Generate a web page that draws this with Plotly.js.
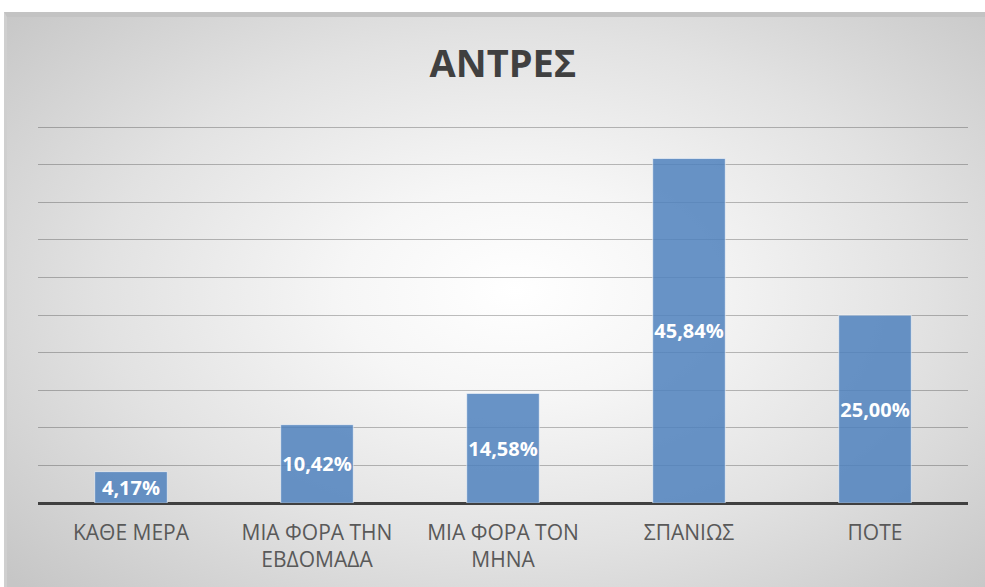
<!DOCTYPE html>
<html>
<head>
<meta charset="utf-8">
<script src="https://cdn.plot.ly/plotly-3.0.1.min.js"></script>
<style>
  html, body { margin: 0; padding: 0; background: #ffffff; }
  #wrap { position: relative; width: 985px; height: 587px; overflow: hidden; }
  #frame {
    position: absolute; left: 4px; top: 12px; width: 981px; height: 575px;
    box-sizing: border-box;
    border-top: 5px solid #c3c3c3; border-left: 3px solid #cfcfcf;
    background: radial-gradient(ellipse 70% 75% at 52% 48%, #ffffff 0%, #f6f6f6 25%, #e2e2e2 60%, #c6c6c6 100%);
  }
  #chart { position: absolute; left: 0; top: 0; width: 985px; height: 587px; }
</style>
</head>
<body>
<div id="wrap">
  <div id="frame"></div>
  <div id="chart"></div>
</div>
<script>
const categories = ["ΚΑΘΕ ΜΕΡΑ", "ΜΙΑ ΦΟΡΑ ΤΗΝ<br>ΕΒΔΟΜΑΔΑ", "ΜΙΑ ΦΟΡΑ ΤΟΝ<br>ΜΗΝΑ", "ΣΠΑΝΙΩΣ", "ΠΟΤΕ"];
const values = [4.17, 10.42, 14.58, 45.84, 25.00];
const labels = ["4,17%", "10,42%", "14,58%", "45,84%", "25,00%"];

const trace = {
  type: "bar",
  x: categories,
  y: values,
  text: labels,
  textposition: "inside",
  insidetextanchor: "middle",
  textangle: 0,
  constraintext: "none",
  textfont: { family: "Open Sans", size: 20, color: "#ffffff", weight: "bold" },
  marker: { color: "rgba(79,129,189,0.85)", line: { color: "rgba(255,255,255,0.55)", width: 1 } },
  hoverinfo: "none"
};

const layout = {
  width: 985, height: 587,
  paper_bgcolor: "rgba(0,0,0,0)",
  plot_bgcolor: "rgba(0,0,0,0)",
  margin: { l: 38, r: 17, t: 125, b: 84 },
  bargap: 0.61,
  showlegend: false,
  title: {
    text: "<b>ΑΝΤΡΕΣ</b>",
    font: { family: "Open Sans", size: 38, color: "#404040" },
    x: 0.5, xref: "paper", xanchor: "center",
    y: 1 - 64 / 587, yref: "container", yanchor: "middle"
  },
  xaxis: {
    type: "category",
    showgrid: false, zeroline: false, showline: false,
    ticks: "", ticklabelstandoff: 15,
    tickfont: { family: "Open Sans", size: 21, color: "#595959" }
  },
  yaxis: {
    range: [0, 50.3], tick0: 0, dtick: 5,
    showticklabels: false, ticks: "",
    showgrid: true, gridcolor: "rgba(0,0,0,0.25)", gridwidth: 1,
    zeroline: true, zerolinecolor: "#404040", zerolinewidth: 3,
    showline: false
  }
};

Plotly.newPlot("chart", [trace], layout, { displayModeBar: false, staticPlot: true });
</script>
</body>
</html>
